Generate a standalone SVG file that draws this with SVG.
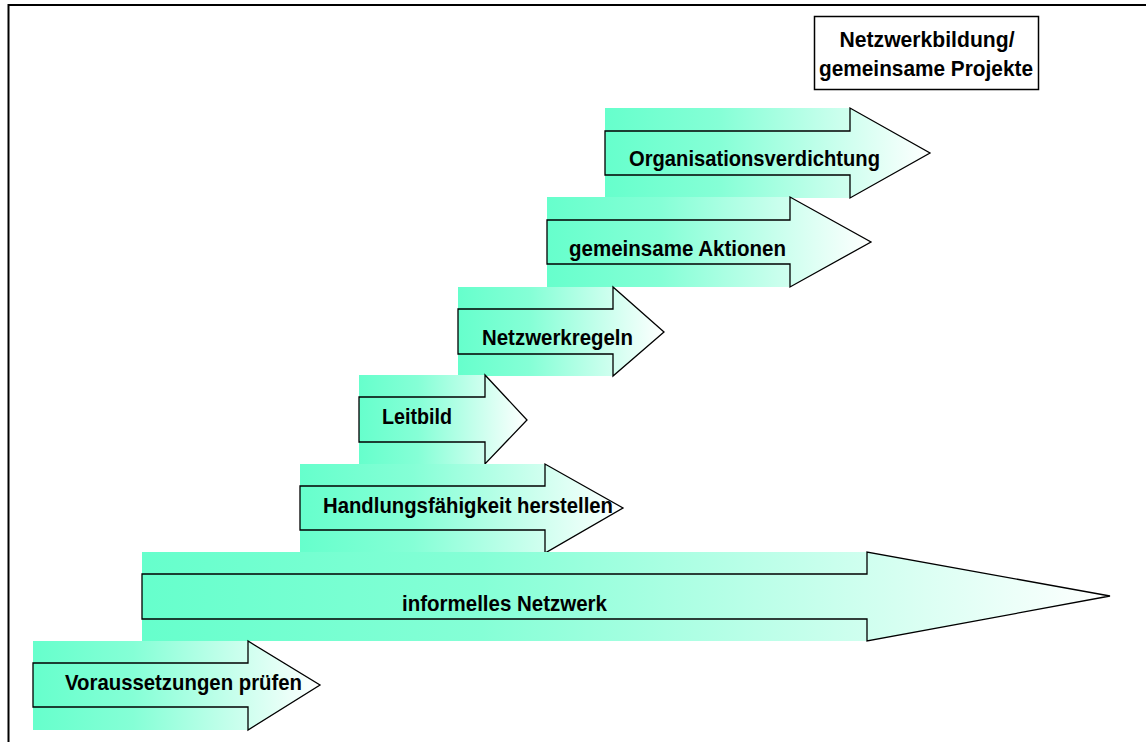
<svg xmlns="http://www.w3.org/2000/svg" width="1146" height="742" viewBox="0 0 1146 742">
<defs>
<linearGradient id="g" x1="0" y1="0" x2="1" y2="0">
<stop offset="0" stop-color="#66ffcc"/>
<stop offset="0.35" stop-color="#85ffd6"/>
<stop offset="1" stop-color="#ffffff"/>
</linearGradient>
<style>
.fill{fill:url(#g);stroke:none}
.out{fill:none;stroke:#000;stroke-width:1.3}
.lbl{font-family:"Liberation Sans",Arial,sans-serif;font-weight:bold;font-size:21.5px;fill:#000}
.frame{stroke:#000;stroke-width:2;fill:none}
</style>
</defs>
<rect width="1146" height="742" fill="#fff"/>
<path class="frame" d="M8.5,742 V5 H1146"/>
<g id="box">
<rect x="814.5" y="16.5" width="224" height="73" fill="#fff" stroke="#000" stroke-width="1.5"/>
<text class="lbl" x="927" y="47" text-anchor="middle" textLength="175" lengthAdjust="spacingAndGlyphs">Netzwerkbildung/</text>
<text class="lbl" x="926" y="76" text-anchor="middle" textLength="214" lengthAdjust="spacingAndGlyphs">gemeinsame Projekte</text>
</g>
<g id="organisationsverdichtung">
<path class="fill" d="M605,108 H850 L930,153 L850,198 H605 Z"/>
<path class="out" d="M605,131 H850 V108 L930,153 L850,198 V175 H605 Z"/>
<text class="lbl" x="629" y="166" textLength="251" lengthAdjust="spacingAndGlyphs">Organisationsverdichtung</text>
</g>
<g id="aktionen">
<path class="fill" d="M547,197 H790 L871,242 L790,287 H547 Z"/>
<path class="out" d="M547,220 H790 V197 L871,242 L790,287 V264 H547 Z"/>
<text class="lbl" x="569" y="256" textLength="217" lengthAdjust="spacingAndGlyphs">gemeinsame Aktionen</text>
</g>
<g id="netzwerkregeln">
<path class="fill" d="M458,287 H613 L664,332 L613,376 H458 Z"/>
<path class="out" d="M458,309 H613 V287 L664,332 L613,376 V354 H458 Z"/>
<text class="lbl" x="482" y="345" textLength="151" lengthAdjust="spacingAndGlyphs">Netzwerkregeln</text>
</g>
<g id="leitbild">
<path class="fill" d="M359,375 H485 L527,420 L485,464 H359 Z"/>
<path class="out" d="M359,397 H485 V375 L527,420 L485,464 V442 H359 Z"/>
<text class="lbl" x="382" y="424" textLength="70" lengthAdjust="spacingAndGlyphs">Leitbild</text>
</g>
<g id="handlungsfaehigkeit">
<path class="fill" d="M300,464 H545 L623,508 L545,553 H300 Z"/>
<path class="out" d="M300,486 H545 V464 L623,508 L545,553 V530 H300 Z"/>
<text class="lbl" x="323" y="513" textLength="290" lengthAdjust="spacingAndGlyphs">Handlungsfähigkeit herstellen</text>
</g>
<g id="informelles-netzwerk">
<path class="fill" d="M142,552 H867 L1110,596 L867,641 H142 Z"/>
<path class="out" d="M142,574 H867 V552 L1110,596 L867,641 V619 H142 Z"/>
<text class="lbl" x="402" y="611" textLength="205" lengthAdjust="spacingAndGlyphs">informelles Netzwerk</text>
</g>
<g id="voraussetzungen">
<path class="fill" d="M33,641 H248 L320,685 L248,730 H33 Z"/>
<path class="out" d="M33,663 H248 V641 L320,685 L248,730 V707 H33 Z"/>
<text class="lbl" x="65" y="690" textLength="237" lengthAdjust="spacingAndGlyphs">Voraussetzungen prüfen</text>
</g>
<g id="connectors"></g>
</svg>
